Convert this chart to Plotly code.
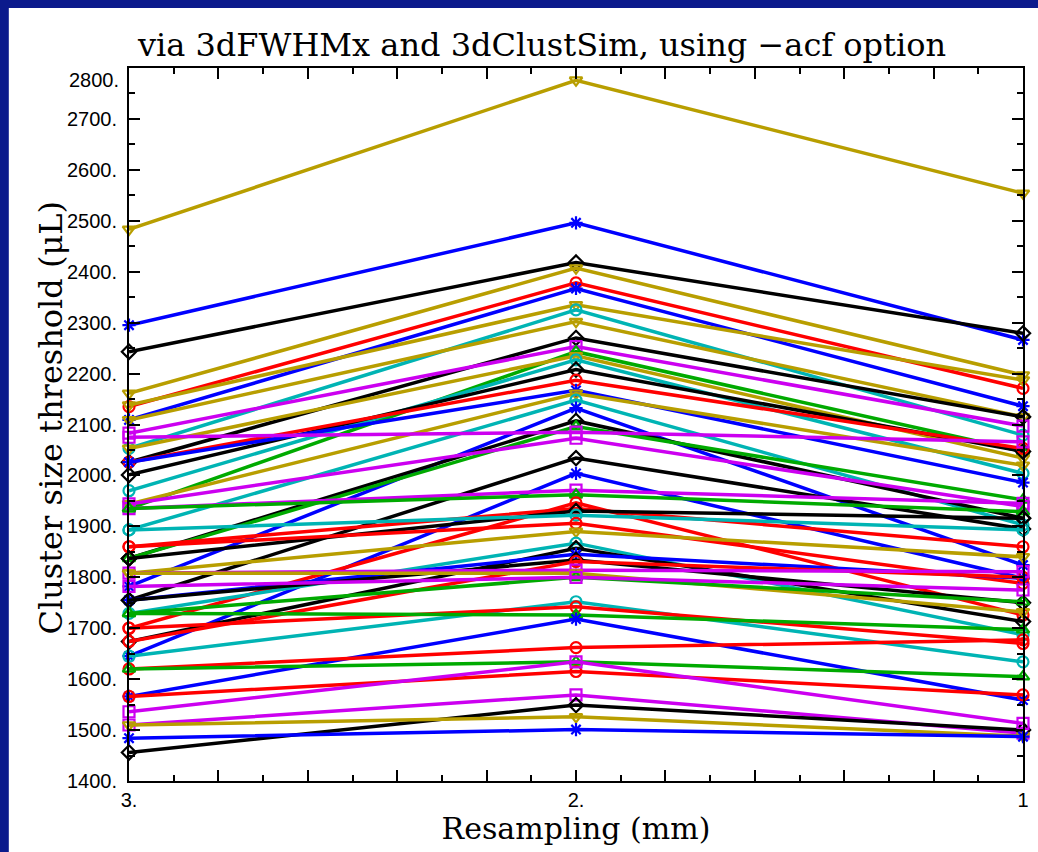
import plotly.graph_objects as go

# ---------------- data ----------------
resampling_mm = [3, 2, 1]

thr_3mm = [2483, 2295, 2243, 2161, 2135, 2109, 2138, 2053, 2109, 2026,
           2083, 1935, 2053, 1970, 2001, 2026, 2026, 1944, 1893, 1782,
           1837, 1837, 2075, 1944, 1755, 1645, 1935, 1935, 1700, 1860,
           1837, 1893, 1860, 1808, 1729, 1674, 1755, 1755, 1674, 1808,
           1808, 1729, 1782, 1645, 1700, 1729, 1566, 1620, 1620, 1566,
           1510, 1456, 1510, 1484, 1536]

thr_2mm = [2776, 2496, 2418, 2407, 2378, 2367, 2335, 2325, 2302, 2270,
           2253, 2243, 2235, 2227, 2208, 2187, 2167, 2161, 2148, 2132,
           2107, 2096, 2085, 2073, 2034, 2004, 1971, 1962, 1946, 1935,
           1930, 1922, 1906, 1890, 1867, 1857, 1845, 1834, 1831, 1814,
           1808, 1800, 1800, 1752, 1742, 1726, 1718, 1662, 1634, 1615,
           1569, 1549, 1526, 1501, 1634]

thr_1mm = [2554, 2266, 2279, 2197, 2171, 2136, 2187, 2079, 2115, 2115,
           2097, 2047, 2034, 2004, 2047, 2053, 1986, 2020, 1903, 1824,
           1916, 1952, 2066, 1939, 1895, 1798, 1945, 1929, 1726, 1860,
           1916, 1893, 1788, 1840, 1687, 1713, 1798, 1750, 1800, 1811,
           1732, 1752, 1775, 1634, 1670, 1697, 1559, 1677, 1605, 1569,
           1494, 1500, 1488, 1487, 1513]

series_color = ["gold", "blue", "black", "gold", "red", "blue", "gold", "cyan", "gold", "black",
                "magenta", "green", "gold", "cyan", "black", "red", "blue", "gold", "cyan", "blue",
                "black", "green", "magenta", "magenta", "black", "blue", "magenta", "green", "red", "red",
                "black", "cyan", "red", "gold", "cyan", "black", "blue", "black", "red", "magenta",
                "gold", "green", "magenta", "cyan", "red", "green", "blue", "red", "green", "red",
                "magenta", "black", "gold", "blue", "magenta"]

y_ticks = [1400, 1500, 1600, 1700, 1800, 1900, 2000, 2100, 2200, 2300, 2400, 2500, 2600, 2700, 2800]
x_major = [3.0, 2.8, 2.6, 2.4, 2.2, 2.0, 1.8, 1.6, 1.4, 1.2, 1.0]
x_minor = [2.9, 2.7, 2.5, 2.3, 2.1, 1.9, 1.7, 1.5, 1.3, 1.1]
x_labels = {3.0: "3.", 2.0: "2.", 1.0: "1"}

# ---------------- styles ----------------
COLOR = {"black": "#000000", "red": "#ff0000", "green": "#00aa00", "blue": "#0000ff",
         "cyan": "#00b4b4", "magenta": "#cc00f0", "gold": "#b89e00"}
SYMBOL = {"black": "diamond-open", "red": "circle-open", "green": "triangle-up-open",
          "blue": "asterisk-open", "cyan": "circle-open", "magenta": "square-open",
          "gold": "triangle-down-open"}
FRAME_BLUE = "#0b1a8c"

fig = go.Figure()
for a, b, c, col in zip(thr_3mm, thr_2mm, thr_1mm, series_color):
    fig.add_trace(go.Scatter(
        x=resampling_mm, y=[a, b, c], mode="lines+markers",
        line=dict(color=COLOR[col], width=3.5),
        marker=dict(symbol=SYMBOL[col], size=11, color=COLOR[col],
                    line=dict(color=COLOR[col], width=2.2)),
        cliponaxis=False, showlegend=False, hoverinfo="x+y"))

tick_font = dict(family="Liberation Sans, Arial, sans-serif", size=20, color="black")
serif = "DejaVu Serif, serif"

L, R, T, B = 129, 9, 68, 71
PW, PH = 1038 - L - R, 852 - T - B


def px_x(p):
    return (p - L) / PW


def px_y(p):
    return (852 - B - p) / PH


fig.update_layout(
    width=1038, height=852, autosize=False,
    margin=dict(l=L, r=R, t=T, b=B),
    paper_bgcolor="white", plot_bgcolor="white",
    title=dict(text="via 3dFWHMx and 3dClustSim, using \u2212acf option",
               x=542 / 1038, xanchor="center", y=1 - 45 / 852, yanchor="middle",
               font=dict(family=serif, size=32, color="black")),
    xaxis=dict(range=[3, 1], tickmode="array", tickvals=x_major,
               ticktext=[x_labels.get(v, "") for v in x_major],
               ticks="inside", ticklen=11, tickwidth=1.6, tickcolor="black",
               minor=dict(tickmode="array", tickvals=x_minor, ticks="inside",
                          ticklen=6, tickwidth=1.6, tickcolor="black"),
               showline=True, linewidth=2, linecolor="black", mirror="allticks",
               showgrid=False, zeroline=False, tickfont=tick_font,
               title=dict(text="Resampling (mm)",
                          font=dict(family=serif, size=30, color="black"), standoff=4)),
    yaxis=dict(range=[1400, 2800], tickmode="array", tickvals=y_ticks,
               ticktext=[("%d." % v) if v != 2800 else "" for v in y_ticks],
               ticks="inside", ticklen=11, tickwidth=1.6, tickcolor="black",
               minor=dict(dtick=50, tick0=1400, ticks="inside", ticklen=6,
                          tickwidth=1.6, tickcolor="black"),
               showline=True, linewidth=2, linecolor="black", mirror="allticks",
               showgrid=False, zeroline=False, tickfont=tick_font,
               ticklabelstandoff=6),
    shapes=[
        dict(type="rect", xref="paper", yref="paper",
             x0=px_x(1031), x1=px_x(1100), y0=px_y(900), y1=px_y(8),
             fillcolor="white", line=dict(width=0), layer="below"),
        dict(type="rect", xref="paper", yref="paper",
             x0=px_x(-20), x1=px_x(8), y0=px_y(900), y1=px_y(-20),
             fillcolor=FRAME_BLUE, line=dict(width=0), layer="below"),
        dict(type="rect", xref="paper", yref="paper",
             x0=px_x(-20), x1=px_x(1100), y0=px_y(8), y1=px_y(-20),
             fillcolor=FRAME_BLUE, line=dict(width=0), layer="below"),
    ],
    annotations=[
        dict(text="2800.", xref="paper", x=0, xshift=-8, xanchor="right",
             yref="y", y=2800, yshift=-12, yanchor="middle",
             showarrow=False, font=tick_font),
        dict(text="Cluster size threshold (\u03bcL)", textangle=-90,
             xref="paper", x=px_x(50), xanchor="center",
             yref="paper", y=px_y(418), yanchor="middle",
             showarrow=False, font=dict(family=serif, size=32, color="black")),
    ],
)

fig.write_html("out.html")
